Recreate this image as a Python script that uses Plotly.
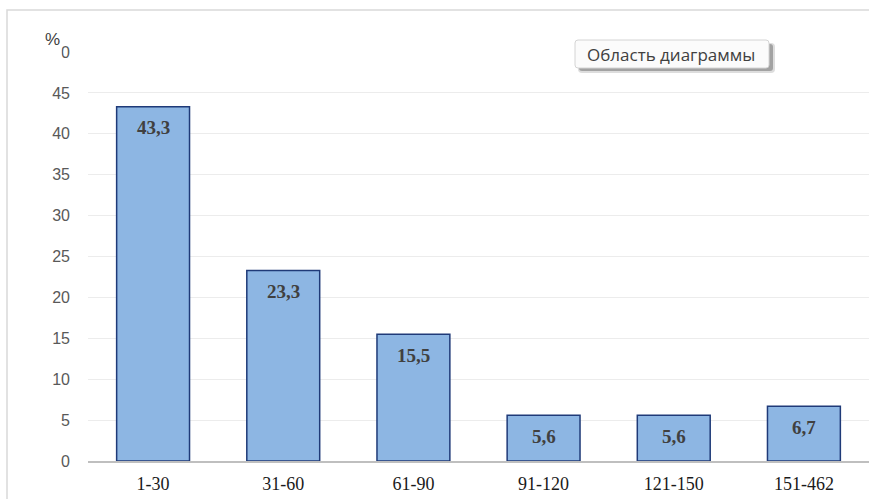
import plotly.graph_objects as go

# Distribution of cases by duration interval (days), share in %
categories = ["1-30", "31-60", "61-90", "91-120", "121-150", "151-462"]
shares = [43.3, 23.3, 15.5, 5.6, 5.6, 6.7]
y_ticks = [0, 5, 10, 15, 20, 25, 30, 35, 40, 45, 50]

W, H = 869, 499
L, R, T, B = 88, 0, 52, 38
plot_w = W - L - R
plot_h = H - T - B


def px_x(x):
    return (x - L) / plot_w


def px_y(y):
    return (H - B - y) / plot_h


def rounded_rect(x0, y0, x1, y1, r):
    # path in paper coordinates built from pixel corners
    X = px_x
    Y = px_y
    rx = r / plot_w
    ry = r / plot_h
    a, b, c, d = X(x0), Y(y0), X(x1), Y(y1)
    return (f"M {a+rx},{b} L {c-rx},{b} Q {c},{b} {c},{b-ry} "
            f"L {c},{d+ry} Q {c},{d} {c-rx},{d} L {a+rx},{d} "
            f"Q {a},{d} {a},{d+ry} L {a},{b-ry} Q {a},{b} {a+rx},{b} Z")


fig = go.Figure(
    go.Bar(
        x=categories,
        y=shares,
        marker=dict(color="#8db6e3", line=dict(color="#1f3a78", width=1.5)),
        width=0.56,
        hoverinfo="skip",
    )
)

# value labels inside the top of each bar
for cat, v in zip(categories, shares):
    fig.add_annotation(
        x=cat, y=v, xref="x", yref="y",
        text=f"{v:.1f}".replace(".", ","),
        showarrow=False, yanchor="middle", yshift=-21,
        font=dict(family="Liberation Serif", size=19, color="#404040", weight="bold"),
    )

shapes = [
    # outer chart frame
    dict(type="path", xref="paper", yref="paper",
         path=f"M {px_x(7)},{px_y(H+5)} L {px_x(7)},{px_y(10)} L {px_x(W+5)},{px_y(10)}",
         line=dict(color="#d9d9d9", width=1.5), layer="below"),
    # tooltip shadow (soft, layered)
    dict(type="path", xref="paper", yref="paper",
         path=rounded_rect(578, 43, 775, 73, 4),
         fillcolor="rgba(120,120,120,0.25)", line=dict(width=0), layer="above"),
    dict(type="path", xref="paper", yref="paper",
         path=rounded_rect(579, 44, 773, 71, 3),
         fillcolor="rgba(90,90,90,0.45)", line=dict(width=0), layer="above"),
    # tooltip box
    dict(type="path", xref="paper", yref="paper",
         path=rounded_rect(575, 40, 769, 68, 3),
         fillcolor="#fbfbfb", line=dict(color="#d4d4d4", width=1), layer="above"),
]

fig.add_annotation(
    xref="paper", yref="paper", x=px_x(671), y=px_y(55),
    text="Область диаграммы", showarrow=False,
    xanchor="center", yanchor="middle",
    font=dict(family="Open Sans", size=17, color="#404040"),
)

# unit label above the value axis
fig.add_annotation(
    xref="paper", yref="paper", x=px_x(44), y=px_y(29),
    text="%", showarrow=False, xanchor="left", yanchor="top",
    width=16, height=29, valign="top", align="left",
    bgcolor="white", borderpad=0,
    font=dict(family="Liberation Sans", size=17, color="#404040"),
)

fig.update_layout(
    width=W, height=H,
    margin=dict(l=L, r=R, t=T, b=B, pad=0),
    paper_bgcolor="white", plot_bgcolor="white",
    bargap=0.44,
    showlegend=False,
    shapes=shapes,
    xaxis=dict(
        showgrid=False, showline=True, linecolor="#bfbfbf", linewidth=2,
        ticks="", ticklabelstandoff=5,
        tickfont=dict(family="Liberation Serif", size=18, color="#1a1a1a"),
        fixedrange=True,
    ),
    yaxis=dict(
        range=[0, 50], tickvals=y_ticks,
        showgrid=True, gridcolor="#ececec", gridwidth=1,
        zeroline=False, showline=False, ticks="", ticklabelstandoff=17,
        tickfont=dict(family="Liberation Sans", size=16, color="#595959"),
        fixedrange=True,
    ),
)

fig.write_html("out.html")
